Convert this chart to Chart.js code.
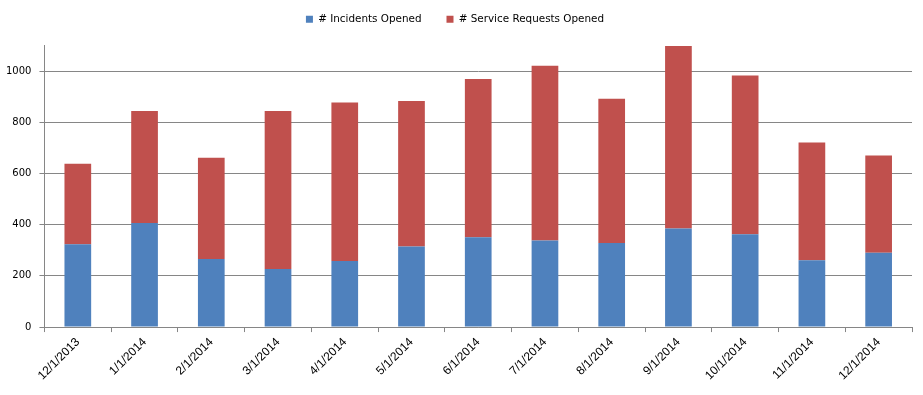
<!DOCTYPE html>
<html>
<head>
<meta charset="utf-8">
<script src="https://cdn.jsdelivr.net/npm/chart.js@4"></script>
<style>
  html, body { margin: 0; padding: 0; background: #fff; }
  #wrap { width: 923px; height: 395px; }
</style>
</head>
<body>
<div id="wrap"><canvas id="chart" width="923" height="395"></canvas></div>
<script>
// month labels along the bottom
const months = ["12/1/2013", "1/1/2014", "2/1/2014", "3/1/2014", "4/1/2014", "5/1/2014",
  "6/1/2014", "7/1/2014", "8/1/2014", "9/1/2014", "10/1/2014", "11/1/2014", "12/1/2014"];

const incidentsOpened = [323, 406, 266, 227, 258, 315, 351, 338, 328, 385, 362, 261, 290];
const serviceRequestsOpened = [315, 438, 395, 617, 619, 568, 618, 683, 564, 713, 620, 460, 380];

const yTicks = [0, 200, 400, 600, 800, 1000];

// push the plot down a bit below the legend
const legendGap = {
  id: "legendGap",
  beforeInit(chart) {
    const fit = chart.legend.fit;
    chart.legend.fit = function () {
      fit.bind(chart.legend)();
      this.height += 11;
    };
  },
};

const chart = new Chart(document.getElementById("chart"), {
  type: "bar",
  data: {
    labels: months,
    datasets: [
      {
        label: "# Incidents Opened",
        data: incidentsOpened,
        backgroundColor: "#4F81BD",
      },
      {
        label: "# Service Requests Opened",
        data: serviceRequestsOpened,
        backgroundColor: "#C0504D",
      },
    ],
  },
  options: {
    responsive: false,
    animation: false,
    layout: { padding: { top: -11, right: 11, left: -2, bottom: 9 } },
    datasets: { bar: { barPercentage: 0.4, categoryPercentage: 1 } },
    plugins: {
      tooltip: { enabled: false },
      legend: {
        position: "top",
        labels: {
          boxWidth: 7,
          boxHeight: 7,
          padding: 25,
          color: "#000",
          font: { family: "DejaVu Sans", size: 10.4 },
        },
      },
    },
    scales: {
      x: {
        stacked: true,
        offset: true,
        border: { color: "#868686", width: 1 },
        grid: { offset: true, drawOnChartArea: false, color: "#868686", tickLength: 5 },
        ticks: {
          minRotation: 45,
          maxRotation: 45,
          color: "#000",
          font: { family: "Liberation Sans", size: 12 },
        },
      },
      y: {
        stacked: true,
        min: 0,
        max: 1100,
        border: { color: "#868686", width: 1 },
        grid: { color: "#868686", tickLength: 5 },
        afterBuildTicks: (axis) => {
          axis.ticks = yTicks.map((v) => ({ value: v }));
        },
        ticks: {
          color: "#000",
          padding: 8,
          callback: (v) => String(v),
          font: { family: "DejaVu Sans", size: 10 },
        },
      },
    },
  },
  plugins: [legendGap],
});
</script>
</body>
</html>
